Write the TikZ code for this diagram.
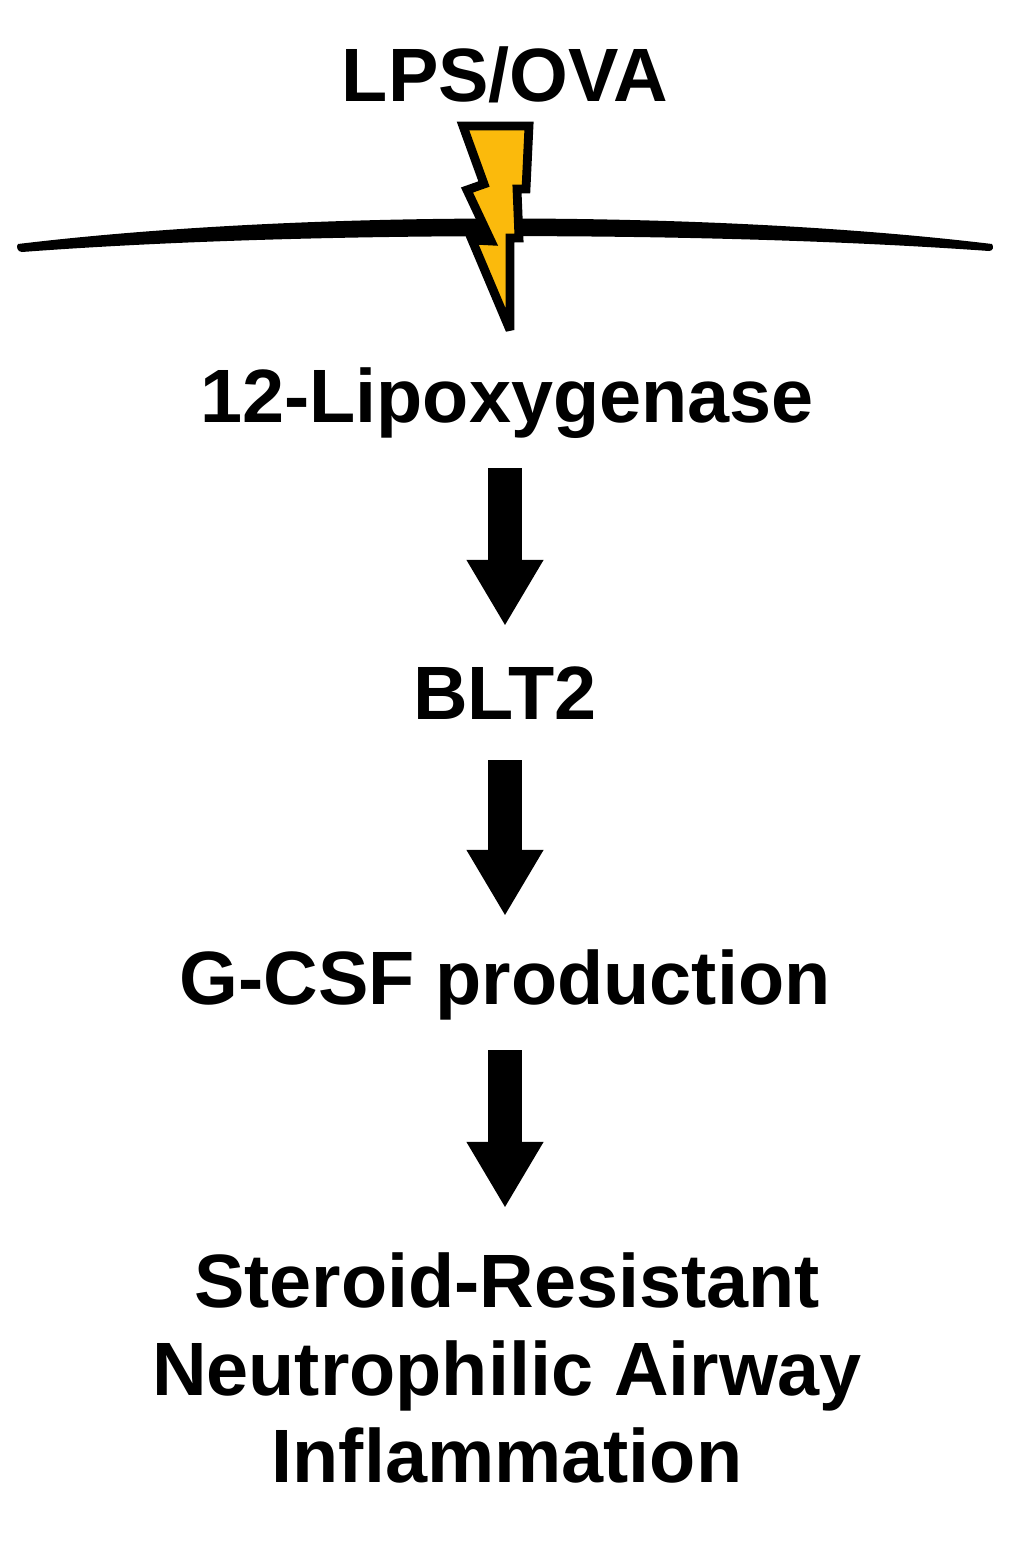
\documentclass[tikz,border=0pt]{standalone}
\usepackage{fontspec}
\setmainfont{Liberation Sans}
\usetikzlibrary{arrows.meta}
\begin{document}
\begin{tikzpicture}[x=0.01cm,y=-0.01cm,
  lab/.style={font=\bfseries\fontsize{21.5}{25}\selectfont,align=center,inner sep=0},
  big/.style={line width=0.34cm,-{Triangle[width=0.72cm,length=0.66cm]}}]
\useasboundingbox (0,0) rectangle (1015,1542);
\node[lab] (lps) at (505,75) {LPS/OVA};
\fill (18,244) .. controls (300,210) and (710,210) .. (992,244)
  .. controls (994,247) and (993,251) .. (989,251)
  .. controls (710,231) and (300,231) .. (22,252)
  .. controls (17,252) and (16,246) .. (18,244) -- cycle;
\draw[line width=2.5pt,fill={rgb,255:red,251;green,186;blue,12},line join=miter,miter limit=3]
 (463,126) -- (529,126) -- (526,189) -- (517,189) -- (519,238) -- (510,238) -- (510,330)
 -- (472,240) -- (491,241) -- (467,190) -- (484,184) -- cycle;
\node[lab] (lox) at (507,403) {12-Lipoxygenase};
\node[lab] (blt) at (505,693) {BLT2};
\node[lab] (gcsf) at (505,985) {G-CSF production};
\node[lab] (out) at (507,1368) {Steroid-Resistant\\Neutrophilic Airway\\Inflammation};
\coordinate (a1s) at (505,468); \coordinate (a1e) at (505,626);
\coordinate (a2s) at (505,760); \coordinate (a2e) at (505,916);
\coordinate (a3s) at (505,1050); \coordinate (a3e) at (505,1208);
\draw[big] (a1s) -- (a1e);
\draw[big] (a2s) -- (a2e);
\draw[big] (a3s) -- (a3e);
\end{tikzpicture}
\end{document}
